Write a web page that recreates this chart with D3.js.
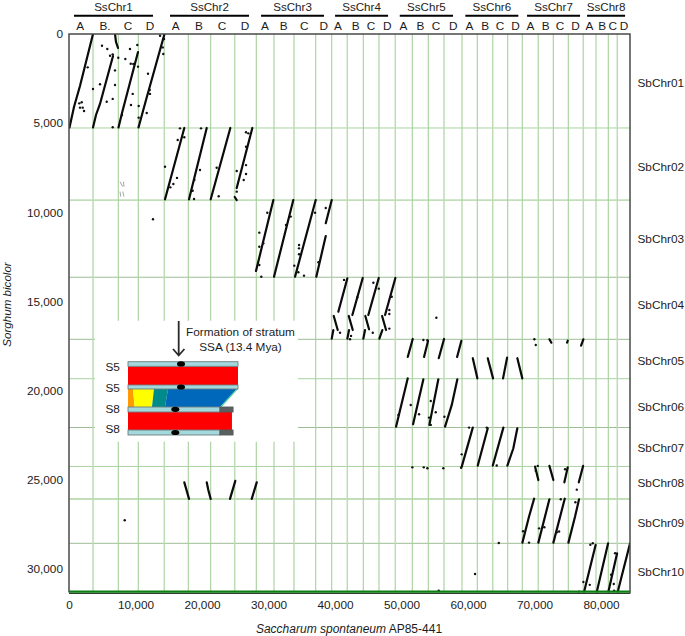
<!DOCTYPE html>
<html><head><meta charset="utf-8">
<script src="https://cdn.jsdelivr.net/npm/d3@7/dist/d3.min.js"></script>
<style>html,body{margin:0;padding:0;background:#fff}svg{display:block}text{font-family:"Liberation Sans",Arial,sans-serif;fill:#1c1c1c}</style>
</head><body><svg id="c" width="685" height="636"></svg>
<script>
// Axis ticks
const xTicks=[0,10000,20000,30000,40000,50000,60000,70000,80000];
const yTicks=[0,5000,10000,15000,20000,25000,30000];
// Sorghum chromosome boundaries and labels
const sbBreaks=[5270,9310,13640,17120,19330,22065,24250,26075,28560];
const sbNames=["SbChr01","SbChr02","SbChr03","SbChr04","SbChr05","SbChr06","SbChr07","SbChr08","SbChr09","SbChr10"];
const sbLabelY=[2730,7460,11460,15180,18350,20930,23200,25160,27430,30180];
// Saccharum homologous chromosome boundaries
const ssBreaks=[3610,7414,10421,14331,17940,21308,24917,28165,30827,33835,37098,39504,41850,44256,46617,49068,51624,54030,56391,59098,61398,63714,65970,68165,70571,72827,75083,77338,79248,81098,82451];
const ssNames=["SsChr1","SsChr2","SsChr3","SsChr4","SsChr5","SsChr6","SsChr7","SsChr8"];
const ssStart=[750,15190,28880,40010,49740,59600,68880,77910];
const ssEnd=[12630,27070,38350,47980,57750,67570,76850,83620];
const hapNames=["A","B.","C","D","A","B","C","D","A","B","C","D","A","B","C","D","A","B","C","D","A","B","C","D","A","B","C","D","A","B","C","D"];
const hapPos=[1700,5410,8870,12180,16050,19550,23010,26470,29480,32290,35390,38310,40460,43120,45420,47870,50280,52840,55200,57800,60210,62570,64820,67130,69380,71700,73850,76150,78250,80160,81770,83470];
// Syntenic blocks per sorghum chromosome: [saccharum kb, sorghum kb] runs
const chr01=[[[75,5240],[750,4090],[1650,2920],[3610,0]],[[3610,5240],[4060,4540],[4660,3925],[6620,1235]],[[6920,0],[7070,450],[7370,785]],[[7445,5240],[7970,4430],[10380,1010]],[[10450,5240],[11580,3700],[12930,1905],[14360,0]]];
const chr02=[[[14440,9270],[17340,5270]],[[18050,9270],[20710,5270]],[[21310,9270],[24260,5270]],[[24920,9140],[25220,9310]],[[25220,8640],[27570,5270]]];
const chr03=[[[28120,13290],[30730,9310]],[[30830,13610],[33730,9310]],[[33990,13610],[37100,9310]],[[37190,13610],[38610,11330]],[[38610,10610],[39510,9310]]];
const chr04=[[[41860,13700],[40500,15570]],[[39810,15810],[40410,16600]],[[39750,16600],[39510,17080]],[[44170,13680],[42610,15760]],[[42070,15810],[42670,16600]],[[42110,16600],[41860,17080]],[[46580,13680],[45010,15760]],[[44560,15810],[45120,16560]],[[44520,16600],[44260,17080]],[[49080,13680],[47530,15760]],[[47080,15810],[47680,16600]],[[47120,16600],[46670,17080]]];
const chr05=[[[51690,17100],[50940,18110]],[[53990,17210],[53390,18110]],[[56400,17100],[55600,18180]],[[59000,17210],[58360,18110]],[[60720,18180],[61410,19310]],[[62970,18180],[63770,19310]],[[65880,18150],[65270,19310]],[[67420,18180],[68170,19310]],[[72240,17120],[72540,17310]],[[75000,17200],[74900,17310]],[[77350,17120],[77000,17480]]];
const chr06=[[[50940,19310],[49180,22020]],[[53290,19360],[51740,21880]],[[55540,19360],[54190,21920]],[[58400,19360],[57560,20800],[56550,22020]]];
const chr07=[[[60720,22070],[59060,24260]],[[62970,22110],[61470,24200]],[[65320,22070],[63730,24200]],[[67420,22110],[66820,23230],[65920,24200]]];
const chr08=[[[70090,24260],[70580,25010]],[[72240,24220],[72840,25010]],[[75000,24300],[74490,25140]],[[77310,24220],[76660,25140]],[[17340,25140],[18050,26070]],[[20710,25140],[20950,25570],[21310,26070]],[[25010,25060],[24210,26070]],[[28230,25140],[27480,26070]]];
const chr09=[[[69940,26060],[69180,27060],[68180,28520]],[[72240,26090],[70580,28520]],[[74550,26060],[72840,28520]],[[76700,26090],[76100,27060],[75100,28520]]];
const chr10=[[[79190,28650],[77460,31270]],[[81070,28560],[79370,31270]],[[82420,29120],[81110,31270]],[[84370,28560],[82520,31270]]];
const blocks=[chr01,chr02,chr03,chr04,chr05,chr06,chr07,chr08,chr09,chr10];
// Faint grey hits
const faint=[[[7670,8280],[8080,8560]],[[8170,8280],[8270,8560]],[[7670,8840],[7780,9120]],[[8080,8840],[8270,9120]]];
// Isolated hits
const dots=[[4960,660],[5760,840],[6170,1220],[6570,1140],[7410,1330],[9170,840],[8470,1400],[9280,1670],[9670,1680],[10270,620],[10380,1830],[2810,1870],[4660,2820],[6920,2040],[6920,2860],[3610,3080],[5670,3800],[6570,3640],[1910,3830],[1550,3890],[1650,4130],[2060,4130],[2260,4320],[9580,3360],[9320,3980],[10480,4040],[10480,4690],[11690,4430],[6570,5230],[11880,2230],[12140,3140],[12180,3360],[13690,100],[14290,280],[14090,750],[14180,1120],[7970,4540],
[16690,5290],[19850,5290],[16350,5940],[17340,5790],[14440,7440],[16240,8070],[15690,8410],[15240,8600],[19700,7630],[18850,8190],[18600,8790],[18800,9250],[22210,7500],[22510,9100],[26620,5510],[26970,5570],[26620,6320],[26620,7350],[25220,7680],[26620,7850],[26270,8190],[25220,8840],[12630,10390],
[29820,10020],[28620,11140],[28620,11930],[29220,11740],[28620,12950],[28920,13610],[32640,10710],[33340,10240],[34590,11830],[34590,12020],[34590,12350],[33880,12990],[34490,13360],[35340,13550],[37000,10020],[38610,9760],[37500,12800],
[41360,13790],[40760,16750],[42410,16930],[42260,17120],[43360,14760],[45770,13950],[46580,14280],[45680,16750],[48530,14730],[48170,15480],[48170,15700],[48170,16520],[55240,15910],
[53290,17160],[53890,17170],[51390,20800],[52640,21320],[49530,21360],[54400,20580],[55150,21210],[54140,21510],[56450,21460],[54400,21920],[69980,17120],[70190,17440],
[51630,24300],[53350,24300],[53890,24350],[56290,24350],[58960,24320],[64320,24200],[59060,23570],[60160,22070],[62820,22070],
[70490,24220],[70190,24490],[74600,24410],[76360,25550],
[68280,27880],[69180,28520],[70690,27720],[71480,27660],[73700,27900],[73350,27940],[73950,26090],[76150,26260],[64630,28540],
[78400,28640],[78760,28560],[77350,30730],[78310,30890],[82120,29120],[81520,30320],[81920,30840],[76700,31270],[81970,31210],[61060,30280],[55600,31210],[8380,27270]];
// Inset schematic (percent along the S5 pair, percent of inset height)
const insetLabels=["S5","S5","S8","S8"];
const insetLabelY=[7,36,64,91];
const insetRed=[[0,100,6.3,31.8],[0,94.5,68.6,93.2]];
const insetChrom=[[0,100,0,6.3],[0,100,31.8,37.2],[0,83.6,61.8,68.6],[0,83.6,93.2,100]];
const insetGrey=[[83.6,95.5,61.8,68.6],[83.6,95.5,93.2,100]];
const insetCentro=[[48.2,3.1],[48.2,34.5],[43,65],[43,96.6]];
const bandOrange=[[0,37.2],[4.5,37.2],[6,61.8],[0,61.8]];
const bandYellow=[[4.5,37.2],[23.6,37.2],[21.8,61.8],[6,61.8]];
const bandTeal=[[23.6,37.2],[36.4,37.2],[33.6,61.8],[21.8,61.8]];
const bandBlue=[[36.4,37.2],[98.8,37.2],[83.6,61.8],[33.6,61.8]];
const bandEdge=[[98.8,37.2],[100,37.2],[85,61.8],[83.6,61.8]];

const svg=d3.select("#c");
const L=69,R=630,T=34,B=592.5;
const pxPerX=66.5/10000, pxPerY=535/30000;
const x=d3.scaleLinear().domain([0,(R-L)/pxPerX]).range([L,R]);
const y=d3.scaleLinear().domain([0,(B-T)/pxPerY]).range([T,B]);

svg.append("defs").append("clipPath").attr("id","plot").append("rect").attr("x",L).attr("y",T).attr("width",R-L).attr("height",B-T);

// Grid
const strong=new Set([1,7]);
svg.append("g").selectAll("line").data(sbBreaks).join("line")
 .attr("x1",L).attr("x2",R).attr("y1",d=>y(d)).attr("y2",d=>y(d))
 .attr("stroke",(d,i)=>strong.has(i)?"#c3dfba":(i==2||i==3||i==5||i==8)?"#9dbd96":"#a9d3a0")
 .attr("stroke-width",(d,i)=>strong.has(i)?1.8:1);
svg.append("g").selectAll("line").data(ssBreaks).join("line")
 .attr("x1",d=>x(d)).attr("x2",d=>x(d)).attr("y1",T).attr("y2",B)
 .attr("stroke",(d,i)=>i%3==0?"#bcdcb4":"#a6d09c")
 .attr("stroke-width",(d,i)=>i%3==0?1.5:1.1);

// White panel behind the inset
svg.append("rect").attr("x",x(3910)).attr("y",y(16080)).attr("width",x(34440)-x(3910)).attr("height",y(22860)-y(16080)).attr("fill","#fff");

// Synteny
const line=d3.line().x(d=>x(d[0])).y(d=>y(d[1]));
const plot=svg.append("g").attr("clip-path","url(#plot)");
plot.append("g").selectAll("path").data(faint).join("path").attr("d",line).attr("fill","none").attr("stroke","#8a9290").attr("stroke-width",.8);
plot.append("g").selectAll("g").data(blocks).join("g").selectAll("path").data(d=>d).join("path")
 .attr("d",line).attr("fill","none").attr("stroke","#0b0b0b").attr("stroke-width",2.2).attr("stroke-linecap","round");
plot.append("g").selectAll("circle").data(dots).join("circle").attr("cx",d=>x(d[0])).attr("cy",d=>y(d[1])).attr("r",1.2).attr("fill","#111");

// Frame
svg.append("path").attr("d",`M${L},${B}V${T}H${R}V${B+1}`).attr("fill","none").attr("stroke","#4a4a4a").attr("stroke-width",1.5);
svg.append("line").attr("x1",L).attr("x2",R).attr("y1",B+.8).attr("y2",B+.8).attr("stroke","#2f3f2f").attr("stroke-width",1.2);
svg.append("line").attr("x1",L).attr("x2",R).attr("y1",B-.8).attr("y2",B-.8).attr("stroke","#0c7f12").attr("stroke-width",2.2);

// Axes
const fmt=d3.format(",");
const ax=svg.append("g").attr("transform",`translate(0,${B+8})`).call(d3.axisBottom(x).tickValues(xTicks).tickFormat(fmt).tickSize(0).tickPadding(0));
const ay=svg.append("g").attr("transform",`translate(${L-6},0)`).call(d3.axisLeft(y).tickValues(yTicks).tickFormat(fmt).tickSize(0).tickPadding(0));
ax.select(".domain").remove(); ay.select(".domain").remove();
[ax,ay].forEach(a=>a.selectAll("text").attr("font-size",11.8).attr("font-family","'Liberation Sans',Arial,sans-serif").style("fill","#1c1c1c"));

// Titles
const xt=svg.append("text").attr("x",349).attr("y",633).attr("text-anchor","middle").attr("font-size",12);
xt.append("tspan").attr("font-style","italic").text("Saccharum spontaneum");
xt.append("tspan").text(" AP85-441");
svg.append("text").attr("transform","translate(10.8,304.5) rotate(-90)").attr("text-anchor","middle").attr("font-size",11.6).attr("font-style","italic").text("Sorghum bicolor");

// Top chromosome labels
svg.append("g").selectAll("line").data(ssNames).join("line")
 .attr("x1",(d,i)=>x(ssStart[i])).attr("x2",(d,i)=>x(ssEnd[i])).attr("y1",15.7).attr("y2",15.7).attr("stroke","#000").attr("stroke-width",2);
svg.append("g").selectAll("text").data(ssNames).join("text")
 .attr("x",(d,i)=>x((ssStart[i]+ssEnd[i])/2)).attr("y",10.6).attr("text-anchor","middle").attr("font-size",11.6).text(d=>d);
svg.append("g").selectAll("text").data(hapNames).join("text")
 .attr("x",(d,i)=>x(hapPos[i])).attr("y",30).attr("text-anchor","middle").attr("font-size",11.8).text(d=>d);

// Right labels
svg.append("g").selectAll("text").data(sbNames).join("text")
 .attr("x",637.5).attr("y",(d,i)=>y(sbLabelY[i])).attr("dy","0.35em").attr("font-size",11.8).text(d=>d);

// Inset
const ix=d3.scaleLinear().domain([0,100]).range([128,238]);
const iy=d3.scaleLinear().domain([0,100]).range([361.7,435]);
const inset=svg.append("g");
const poly=p=>p.map(d=>[ix(d[0]),iy(d[1])].join(",")).join(" ");
[[bandOrange,"#ff9a00"],[bandYellow,"#ffff00"],[bandTeal,"#008b8b"],[bandBlue,"#0068bb"],[bandEdge,"#3fd08a"]].forEach(b=>{
 inset.append("polygon").attr("points",poly(b[0])).attr("fill",b[1]);
});
const rects=(data,fill,stroke)=>inset.append("g").selectAll("rect").data(data).join("rect")
 .attr("x",d=>ix(d[0])).attr("width",d=>ix(d[1])-ix(d[0])).attr("y",d=>iy(d[2])).attr("height",d=>iy(d[3])-iy(d[2]))
 .attr("fill",fill).attr("stroke",stroke).attr("stroke-width",stroke=="none"?0:.9);
rects(insetRed,"#fe0000","none");
rects(insetChrom,"#a3d8dc","#6f7f82");
rects(insetGrey,"#5a5f60","#55595a");
inset.append("g").selectAll("ellipse").data(insetCentro).join("ellipse")
 .attr("cx",d=>ix(d[0])).attr("cy",d=>iy(d[1])).attr("rx",4).attr("ry",2.6).attr("fill","#000");
inset.append("g").selectAll("text").data(insetLabels).join("text")
 .attr("x",112.7).attr("y",(d,i)=>iy(insetLabelY[i])).attr("dy","0.35em").attr("text-anchor","middle").attr("font-size",11.8).text(d=>d);
inset.append("text").attr("x",240.5).attr("y",336).attr("text-anchor","middle").attr("font-size",11.8).text("Formation of stratum");
inset.append("text").attr("x",240.5).attr("y",350.5).attr("text-anchor","middle").attr("font-size",11.8).text("SSA (13.4 Mya)");
inset.append("path").attr("d","M178.7,321V355M173,349L178.7,355.5L184.4,349").attr("fill","none").attr("stroke","#2a2a2a").attr("stroke-width",1.8);
</script></body></html>
